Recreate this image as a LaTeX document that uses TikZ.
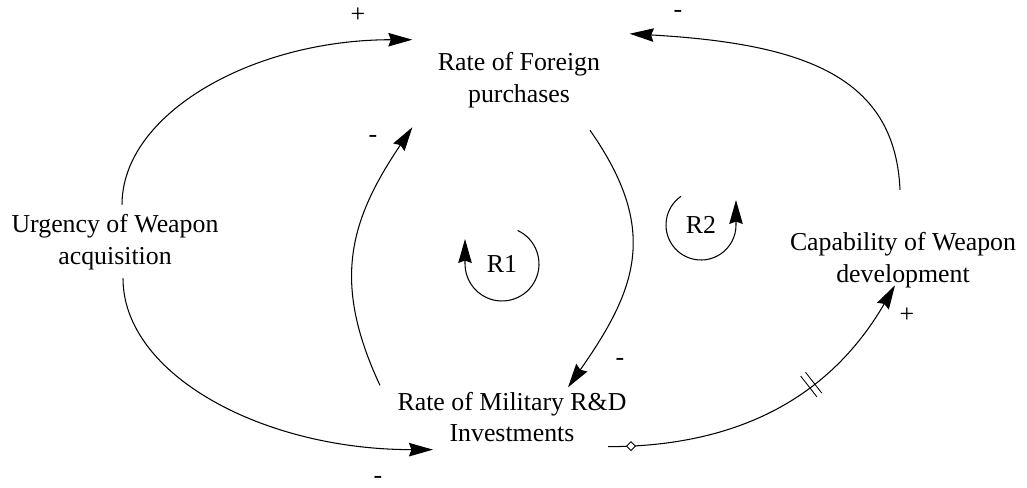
\documentclass[tikz,border=0pt]{standalone}
\usepackage{fontspec}
\setmainfont{Liberation Serif}
\usetikzlibrary{arrows.meta,shapes.geometric}

\begin{document}
\begin{tikzpicture}[
    x=0.02cm, y=0.02cm,
    >={Stealth[length=0.48cm,width=0.27cm,inset=0.05cm]},
    var/.style={
        align=center,
        inner sep=3pt,
        font=\fontsize{14.7}{18}\selectfont
    },
    sign/.style={inner sep=1pt, font=\fontsize{14.7}{18}\selectfont},
    link/.style={->, line width=0.6pt},
    tickmark/.style={diamond, draw, fill=white, inner sep=0pt,
        minimum size=0.18cm, line width=0.5pt}
]
\useasboundingbox (0,0) rectangle (1027,487);

\node[var] (foreign) at (519,407) {Rate of Foreign\\purchases};

\node[var] (military) at (512,70) {Rate of Military R\&D\\Investments};

\node[var] (urgency) at (115,245) {Urgency of Weapon\\acquisition};

\node[var] (capability) at (903,227) {Capability of Weapon\\development};

\node[var] (r1) at (502,223) {R1};
\node[var] (r2) at (701,262) {R2};

% polarities
\node[sign] (s1) at (358,472) {+};
\node[sign] (s2) at (378,7) {-};
\node[sign] (s3) at (620,125) {-};
\node[sign] (s4) at (373,348) {-};
\node[sign] (s5) at (678,473) {-};
\node[sign] (s6) at (907,172) {+};

\draw[link] ([shift={(7,4)}]urgency.north)
    .. controls +(0,91) and +(-160,0) .. ([shift={(-20,7)}]foreign.north west);
\draw[link] ([shift={(8,-3)}]urgency.south)
    .. controls +(0,-96) and +(-171,0) .. ([shift={(41,-2)}]military.south west);
\draw[link] ([shift={(71,-17)}]foreign.south)
    to[out=-55, in=55, looseness=1.2] ([shift={(56,-1)}]military.north);
\draw[link] ([shift={(-12,1)}]military.north west)
    to[out=115, in=236, looseness=1.12] ([shift={(-20,-14)}]foreign.south west);
\draw[link] ([shift={(-3,37)}]capability.north)
    .. controls +(-5,113) and +(175,-10) .. ([shift={(24,13)}]foreign.north east);
\draw[link] ([shift={(96,1)}]military.south)
    .. controls +(130,0) and +(-65,-112) .. ([shift={(-8,8)}]capability.south)
    node[pos=0.06, tickmark] (tick) {}
    node[pos=0.63, sloped, inner sep=0pt] (delay)
        {\rule[-7.5pt]{0.5pt}{15pt}\hspace{3pt}\rule[-7.5pt]{0.5pt}{15pt}};

% loop markers
\draw[link] ([shift={(65:0.74cm)}]r1.center)
    arc[start angle=65, end angle=-180, radius=0.74cm] -- ++(0,25);
\draw[link] ([shift={(125:0.7cm)}]r2.center)
    arc[start angle=125, end angle=360, radius=0.7cm] -- ++(0,25);

\end{tikzpicture}
\end{document}
